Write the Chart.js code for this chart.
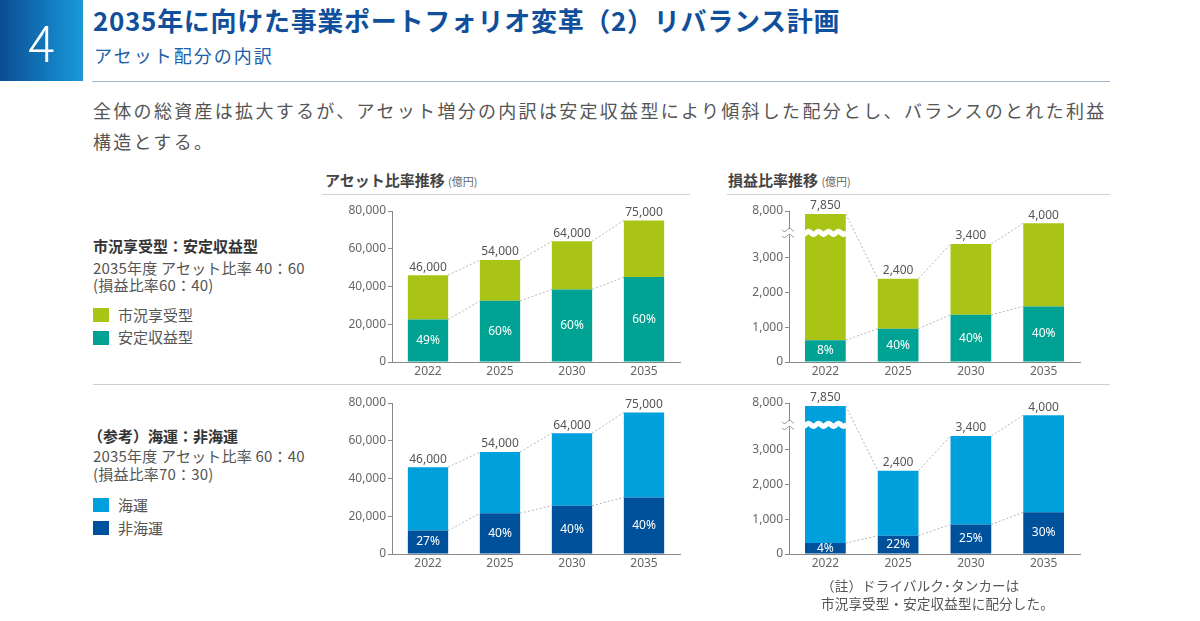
<!DOCTYPE html>
<html lang="ja">
<head>
<meta charset="utf-8">
<script src="https://cdn.jsdelivr.net/npm/chart.js@4.4.1/dist/chart.umd.min.js"></script>
<style>
  html, body { margin: 0; padding: 0; background: #fff; }
  body { width: 1200px; height: 621px; position: relative; overflow: hidden;
         font-family: 'Noto Sans CJK JP', 'Noto Sans', sans-serif; color: #555; }
  .abs { position: absolute; white-space: nowrap; }
  #badge { left: 0; top: 0; width: 83px; height: 81px;
           background: linear-gradient(90deg, #0b4c93 0%, #1487c9 75%, #1c98d6 100%);
           color: #fff; font-size: 50px; font-weight: 300; line-height: 81px; text-align: center; }
  #title { left: 93px; top: 7px; font-size: 26px; line-height: 26px; font-weight: bold; color: #0f4f9b; letter-spacing: 0.7px; }
  #subtitle { left: 94px; top: 46px; font-size: 18px; line-height: 18px; color: #1c5ea8; letter-spacing: 2px; }
  .hline { position: absolute; height: 1px; }
  #lead { left: 93px; top: 95px; font-size: 18px; line-height: 31px; color: #555; letter-spacing: 2.3px; }
  .ctitle { font-size: 15px; line-height: 15px; font-weight: bold; color: #444; }
  .ctitle small { font-size: 11px; font-weight: normal; color: #666; }
  .ghead { font-size: 15px; line-height: 15px; font-weight: bold; color: #333; }
  .gtext { font-size: 15px; color: #555; letter-spacing: 0.2px; }
  .sw { position: absolute; width: 16px; height: 14px; }
  .lg { font-size: 15px; line-height: 15px; color: #555; }
  .box { position: absolute; width: 360px; height: 210px; }
  #note { left: 821px; top: 576px; font-size: 13.5px; line-height: 18px; color: #555; letter-spacing: 0.2px; }
</style>
</head>
<body>
<div id="badge" class="abs">4</div>
<div id="title" class="abs">2035年に向けた事業ポートフォリオ変革（2）リバランス計画</div>
<div id="subtitle" class="abs">アセット配分の内訳</div>
<div class="hline" style="left:92px; top:81px; width:1018px; background:#9fb9d3;"></div>
<div id="lead" class="abs">全体の総資産は拡大するが、アセット増分の内訳は安定収益型により傾斜した配分とし、バランスのとれた利益<br>構造とする。</div>

<div class="abs ctitle" style="left:325px; top:172px;">アセット比率推移 <small>(億円)</small></div>
<div class="abs ctitle" style="left:728px; top:172px;">損益比率推移 <small>(億円)</small></div>
<div class="hline" style="left:322px; top:194px; width:368px; background:#d0d0d0;"></div>
<div class="hline" style="left:727px; top:194px; width:383px; background:#d0d0d0;"></div>
<div class="hline" style="left:93px; top:384px; width:1017px; background:#d0d0d0;"></div>

<div class="abs ghead" style="left:93px; top:238px;">市況享受型：安定収益型</div>
<div class="abs gtext" style="left:93px; top:259px; line-height:17px;">2035年度 アセット比率 40：60<br>(損益比率60：40)</div>
<div class="sw" style="left:93px; top:308px; background:#a9c415;"></div>
<div class="abs lg" style="left:118px; top:307px;">市況享受型</div>
<div class="sw" style="left:93px; top:331px; background:#00a293;"></div>
<div class="abs lg" style="left:118px; top:329px;">安定収益型</div>

<div class="abs ghead" style="left:88px; top:428px;">（参考）海運：非海運</div>
<div class="abs gtext" style="left:93px; top:447px; line-height:18px;">2035年度 アセット比率 60：40<br>(損益比率70：30)</div>
<div class="sw" style="left:93px; top:498px; background:#00a0dc;"></div>
<div class="abs lg" style="left:118px; top:497px;">海運</div>
<div class="sw" style="left:93px; top:521px; background:#00519b;"></div>
<div class="abs lg" style="left:118px; top:520px;">非海運</div>

<div class="box" style="left:330px; top:196px;"><canvas id="assetChart"></canvas></div>
<div class="box" style="left:730px; top:196px;"><canvas id="profitChart"></canvas></div>
<div class="box" style="left:330px; top:388px;"><canvas id="shipAssetChart"></canvas></div>
<div class="box" style="left:730px; top:388px;"><canvas id="shipProfitChart"></canvas></div>

<div id="note" class="abs">（註）ドライバルク･タンカーは<br>市況享受型・安定収益型に配分した。</div>

<script>
// data (億円)
const years = ['2022', '2025', '2030', '2035'];

const assetTotal = [46000, 54000, 64000, 75000];
const assetStable = [22540, 32400, 38400, 45000];
const assetMarket = [23460, 21600, 25600, 30000];
const assetStablePct = ['49%', '60%', '60%', '60%'];

const profitTotal = [7850, 2400, 3400, 4000];
const profitStable = [628, 960, 1360, 1600];
const profitMarket = [7222, 1440, 2040, 2400];
const profitStablePct = ['8%', '40%', '40%', '40%'];

const shipAssetTotal = [46000, 54000, 64000, 75000];
const shipAssetNon = [12420, 21600, 25600, 30000];
const shipAssetShip = [33580, 32400, 38400, 45000];
const shipAssetNonPct = ['27%', '40%', '40%', '40%'];

const shipProfitTotal = [7850, 2400, 3400, 4000];
const shipProfitNon = [314, 528, 850, 1200];
const shipProfitShip = [7536, 1872, 2550, 2800];
const shipProfitNonPct = ['4%', '22%', '25%', '30%'];

const assetTicks = [0, 20000, 40000, 60000, 80000];
const profitTicks = [0, 1000, 2000, 3000];
const profitTopLabel = '8,000';

// broken profit axis: the top of the axis stands for 8,000
const profitAxisTop = 4350;
const profitBreakAt = 3720;

const GREEN = '#a9c415', TEAL = '#00a293', SKY = '#00a0dc', NAVY = '#00519b';
const NUM_FONT = "'Noto Sans', 'DejaVu Sans', sans-serif";

Chart.defaults.font.family = NUM_FONT;
Chart.defaults.color = '#666';

function fmt(v) {
    return v.toLocaleString('en-US');
}

function wave(ctx, x0, x1, y, amp, period) {
    ctx.beginPath();
    for (let x = x0; x <= x1; x += 0.5) {
        const yy = y + Math.sin((x - x0) / period * Math.PI * 2) * amp;
        if (x === x0) ctx.moveTo(x, yy); else ctx.lineTo(x, yy);
    }
    ctx.stroke();
}

const barNotes = {
    id: 'barNotes',
    afterDatasetsDraw(chart, args, opts) {
        const ctx = chart.ctx;
        const area = chart.chartArea;
        const low = chart.getDatasetMeta(0).data;
        const high = chart.getDatasetMeta(1).data;
        const topY = i => Math.max(high[i].y, area.top + 3);

        // wavy break on the first bar
        if (opts.breakAt !== undefined) {
            const y = chart.scales.y.getPixelForValue(opts.breakAt);
            const bar = high[0];
            ctx.save();
            ctx.strokeStyle = '#fff';
            ctx.lineWidth = 5;
            wave(ctx, area.left - 8, bar.x + bar.width / 2 + 1, y, 1.6, 10);
            ctx.strokeStyle = '#888';
            ctx.lineWidth = 1;
            wave(ctx, area.left - 7, area.left + 5, y - 3, 1.6, 10);
            wave(ctx, area.left - 7, area.left + 5, y + 3, 1.6, 10);
            ctx.restore();
        }

        // dashed connectors
        ctx.save();
        ctx.strokeStyle = '#b5b5b5';
        ctx.lineWidth = 1;
        ctx.setLineDash([2, 2]);
        for (let i = 0; i < high.length - 1; i++) {
            const a = high[i], b = high[i + 1];
            ctx.beginPath();
            ctx.moveTo(a.x + a.width / 2, topY(i));
            ctx.lineTo(b.x - b.width / 2, topY(i + 1));
            ctx.stroke();
            const c = low[i], d = low[i + 1];
            ctx.beginPath();
            ctx.moveTo(c.x + c.width / 2, c.y);
            ctx.lineTo(d.x - d.width / 2, d.y);
            ctx.stroke();
        }
        ctx.restore();

        // totals and shares
        ctx.save();
        ctx.textAlign = 'center';
        ctx.textBaseline = 'middle';
        ctx.font = '12px ' + NUM_FONT;
        ctx.fillStyle = '#555';
        high.forEach((bar, i) => {
            ctx.fillText(fmt(opts.totals[i]), bar.x, topY(i) - 8);
        });
        ctx.fillStyle = '#fff';
        low.forEach((bar, i) => {
            ctx.fillText(opts.shares[i], bar.x, (bar.y + bar.base) / 2);
        });
        ctx.restore();
    }
};

function makeChart(id, lowData, highData, lowColor, highColor, totals, shares, isProfit) {
    // profit bars are cut a little below the top of the broken axis
    const clip = isProfit ? { left: false, right: false, top: -3, bottom: false } : undefined;
    const yScale = {
        stacked: true,
        min: 0,
        max: isProfit ? profitAxisTop : 80000,
        afterBuildTicks: scale => {
            const vals = isProfit ? profitTicks.concat([profitAxisTop]) : assetTicks;
            scale.ticks = vals.map(v => ({ value: v }));
        },
        afterFit: scale => { scale.width = isProfit ? 59 : 62; },
        ticks: {
            padding: 2,
            color: '#666',
            font: { size: 12 },
            callback: value => (isProfit && value === profitAxisTop) ? profitTopLabel : fmt(value)
        },
        grid: { display: true, drawOnChartArea: false, drawTicks: true, tickLength: 4, color: '#888' },
        border: { display: true, color: '#888' }
    };
    return new Chart(document.getElementById(id), {
        type: 'bar',
        data: {
            labels: years,
            datasets: [
                { label: 'low', data: lowData, backgroundColor: lowColor, clip: clip },
                { label: 'high', data: highData, backgroundColor: highColor, clip: clip }
            ]
        },
        options: {
            responsive: true,
            maintainAspectRatio: false,
            animation: false,
            barPercentage: 0.56,
            categoryPercentage: 1.0,
            layout: { padding: { top: 15, right: 10, left: 0, bottom: 0 } },
            plugins: {
                legend: { display: false },
                tooltip: { enabled: false },
                barNotes: {
                    totals: totals,
                    shares: shares,
                    breakAt: isProfit ? profitBreakAt : undefined
                }
            },
            scales: {
                x: {
                    stacked: true,
                    afterFit: scale => { scale.height = 44; },
                    ticks: { padding: -6, color: '#666', font: { size: 12 } },
                    grid: { display: false },
                    border: { display: true, color: '#888' }
                },
                y: yScale
            }
        },
        plugins: [barNotes]
    });
}

makeChart('assetChart', assetStable, assetMarket, TEAL, GREEN, assetTotal, assetStablePct, false);
makeChart('profitChart', profitStable, profitMarket, TEAL, GREEN, profitTotal, profitStablePct, true);
makeChart('shipAssetChart', shipAssetNon, shipAssetShip, NAVY, SKY, shipAssetTotal, shipAssetNonPct, false);
makeChart('shipProfitChart', shipProfitNon, shipProfitShip, NAVY, SKY, shipProfitTotal, shipProfitNonPct, true);
</script>
</body>
</html>
